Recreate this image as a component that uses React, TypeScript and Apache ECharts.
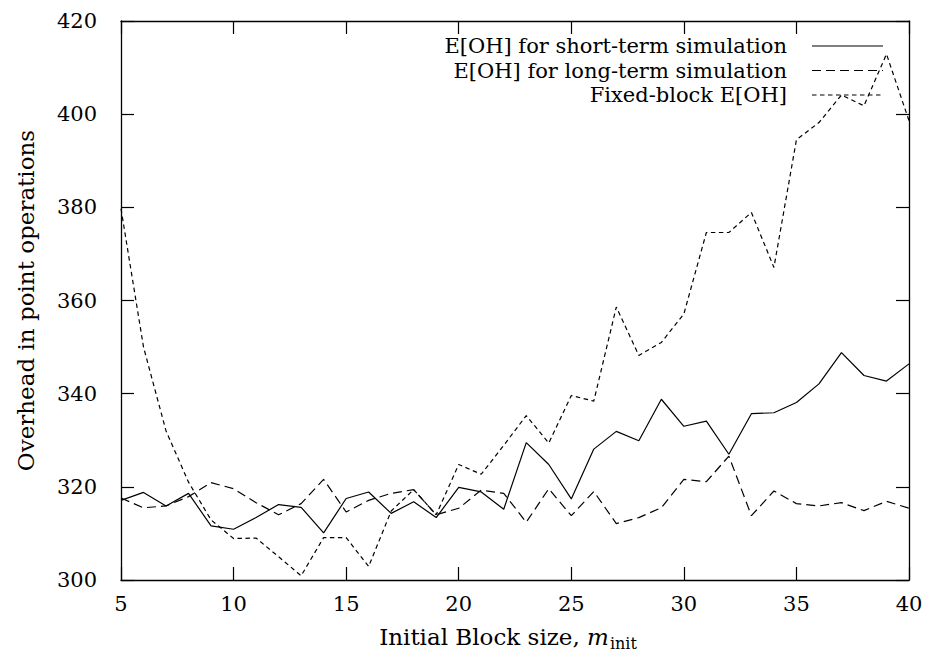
import React, { useEffect, useRef } from "react";
import * as echarts from "echarts";

// Initial block sizes m_init
const blockSizes = [
  5, 6, 7, 8, 9, 10, 11, 12, 13, 14, 15, 16, 17, 18, 19, 20, 21, 22,
  23, 24, 25, 26, 27, 28, 29, 30, 31, 32, 33, 34, 35, 36, 37, 38, 39, 40,
];

// E[OH] for short-term simulation
const shortTerm = [
  317.1, 318.8, 315.9, 318.6, 311.6, 310.9, 313.4, 316.2, 315.6, 310.1, 317.5, 318.9,
  314.3, 316.8, 313.4, 319.9, 318.9, 315.2, 329.5, 324.8, 317.4, 328.1, 331.9, 329.9,
  338.8, 333.0, 334.1, 327.0, 335.7, 335.9, 338.1, 342.1, 348.8, 343.9, 342.7, 346.4,
];

// E[OH] for long-term simulation
const longTerm = [
  317.6, 315.5, 315.9, 317.9, 320.9, 319.6, 316.6, 314.0, 316.4, 321.6, 314.6, 317.1,
  318.6, 319.4, 314.0, 315.4, 319.3, 318.6, 312.4, 319.6, 313.8, 319.0, 312.1, 313.4,
  315.5, 321.6, 321.1, 326.6, 313.8, 319.1, 316.4, 315.9, 316.6, 314.9, 316.9, 315.4,
];

// Fixed-block E[OH]
const fixedBlock = [
  379.7, 350.0, 332.0, 321.0, 312.9, 308.9, 309.0, 305.0, 300.9, 309.1, 309.1, 302.9,
  314.8, 319.4, 314.0, 324.8, 322.7, 328.9, 335.3, 329.4, 339.6, 338.4, 358.6, 348.2,
  351.0, 357.1, 374.6, 374.6, 378.9, 367.1, 394.5, 398.2, 404.1, 401.8, 412.9, 398.6,
];

const seriesNames = [
  "E[OH] for short-term simulation",
  "E[OH] for long-term simulation",
  "Fixed-block E[OH]",
];

const FONT = "DejaVu Serif";
const INK = "#000";

const dashStyles: (number[] | "solid")[] = ["solid", [9, 5], [4.5, 3.5]];

const pair = (ys: number[]) => blockSizes.map((x, i) => [x, ys[i]]);

export default function App() {
  const ref = useRef<HTMLDivElement>(null);

  useEffect(() => {
    document.body.style.margin = "0";
    document.documentElement.style.overflow = "hidden";
    if (!ref.current) return;
    const chart = echarts.init(ref.current, undefined, { renderer: "svg" });

    const axisLine = { show: true, lineStyle: { color: INK, width: 1.3 } };
    const tick = (len: number) => ({
      show: true,
      inside: true,
      length: len,
      lineStyle: { color: INK, width: 1.2 },
    });
    const tickLabel = (margin: number) => ({
      color: INK,
      fontFamily: FONT,
      fontSize: 21,
      margin,
    });

    const data = [shortTerm, longTerm, fixedBlock];

    // legend drawn as plain graphics, right-aligned text with a sample stroke
    const legendTop = 46;
    const legendStep = 24.5;
    const legendGraphics: any[] = [];
    seriesNames.forEach((name, i) => {
      const y = legendTop + i * legendStep;
      legendGraphics.push({
        type: "text",
        x: 787,
        y,
        style: {
          text: name,
          fontFamily: FONT,
          fontSize: 21,
          fill: INK,
          align: "right",
          verticalAlign: "middle",
        },
      });
      const dash = dashStyles[i];
      legendGraphics.push({
        type: "line",
        shape: { x1: 812, y1: y, x2: 883, y2: y },
        style: {
          stroke: INK,
          lineWidth: 1.2,
          lineDash: dash === "solid" ? null : dash,
        },
      });
    });

    chart.setOption({
      animation: false,
      backgroundColor: "#fff",
      grid: { left: 121, right: 17, top: 21, bottom: 76, containLabel: false },
      xAxis: [
        {
          type: "value",
          min: 5,
          max: 40,
          interval: 5,
          position: "bottom",
          axisLine,
          axisTick: tick(13),
          axisLabel: tickLabel(13),
          splitLine: { show: false },
          name: "{a|Initial Block size, }{m|m}{s|init}",
          nameLocation: "middle",
          nameGap: 42,
          nameTextStyle: {
            color: INK,
            fontFamily: FONT,
            fontSize: 23,
            padding: [0, 14, 0, 0],
            rich: {
              a: { fontFamily: FONT, fontSize: 23, color: INK },
              m: { fontFamily: FONT, fontSize: 23, fontStyle: "italic", color: INK },
              s: { fontFamily: FONT, fontSize: 16, color: INK, padding: [13, 0, 0, 1] },
            },
          },
        },
        {
          type: "value",
          min: 5,
          max: 40,
          interval: 5,
          position: "top",
          axisLine,
          axisTick: tick(13),
          axisLabel: { show: false },
          splitLine: { show: false },
        },
      ],
      yAxis: [
        {
          type: "value",
          min: 300,
          max: 420,
          interval: 20,
          position: "left",
          axisLine,
          axisTick: tick(13),
          axisLabel: tickLabel(24),
          splitLine: { show: false },
          name: "Overhead in point operations",
          nameLocation: "middle",
          nameRotate: 90,
          nameGap: 84,
          nameTextStyle: { color: INK, fontFamily: FONT, fontSize: 23 },
        },
        {
          type: "value",
          min: 300,
          max: 420,
          interval: 20,
          position: "right",
          axisLine,
          axisTick: tick(13),
          axisLabel: { show: false },
          splitLine: { show: false },
        },
      ],
      series: data.map((ys, i) => ({
        name: seriesNames[i],
        type: "line",
        xAxisIndex: 0,
        yAxisIndex: 0,
        data: pair(ys),
        symbol: "none",
        lineStyle: { color: INK, width: 1.2, type: dashStyles[i] },
        z: 3 - i,
      })),
      graphic: legendGraphics,
    });

    return () => chart.dispose();
  }, []);

  return <div ref={ref} style={{ width: 926, height: 656 }} />;
}
